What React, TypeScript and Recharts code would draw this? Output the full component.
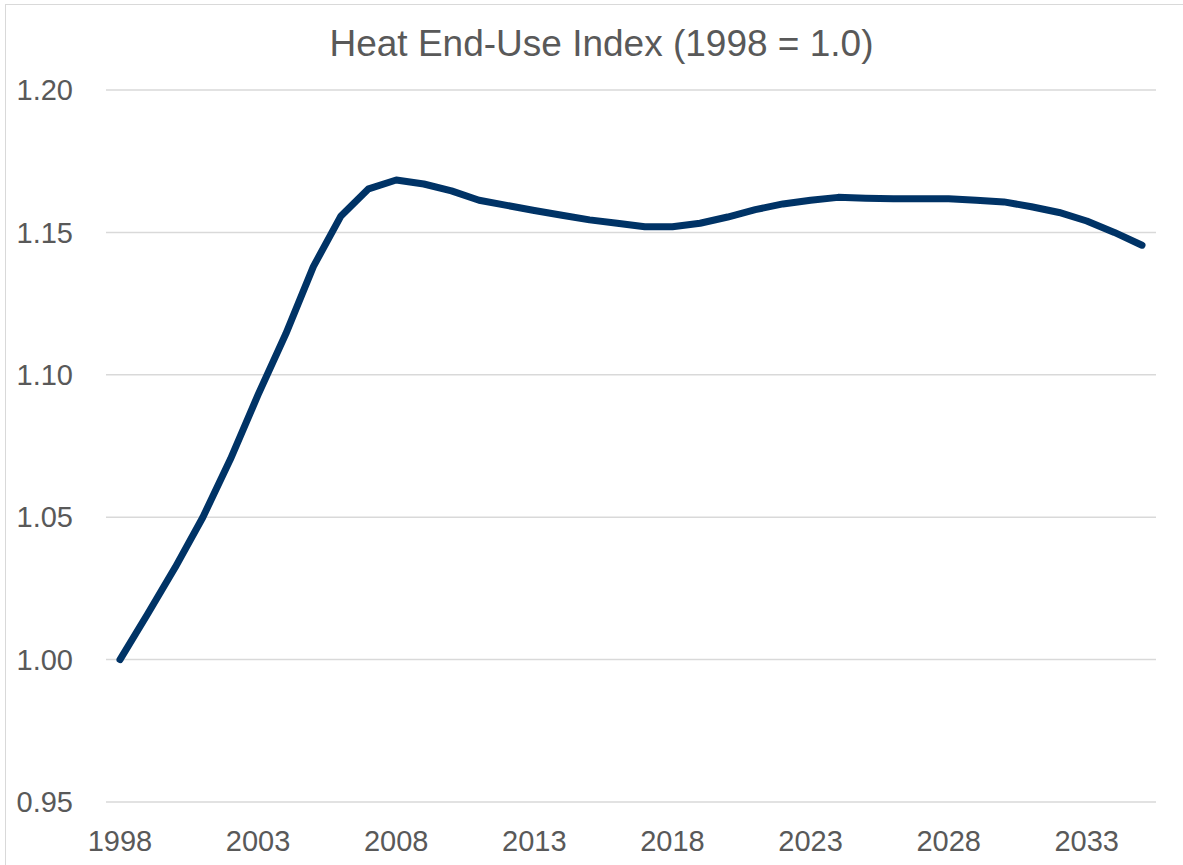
import { LineChart, Line, XAxis, YAxis, CartesianGrid } from 'recharts';

const YEARS = [
  1998, 1999, 2000, 2001, 2002, 2003, 2004, 2005, 2006, 2007,
  2008, 2009, 2010, 2011, 2012, 2013, 2014, 2015, 2016, 2017,
  2018, 2019, 2020, 2021, 2022, 2023, 2024, 2025, 2026, 2027,
  2028, 2029, 2030, 2031, 2032, 2033, 2034, 2035,
];

const INDEX_VALUES = [
  1.0, 1.016, 1.0324, 1.05, 1.0704, 1.093, 1.1143, 1.138, 1.1558, 1.1653,
  1.1684, 1.167, 1.1646, 1.1613, 1.1595, 1.1577, 1.156, 1.1544, 1.1532, 1.152,
  1.152, 1.1532, 1.1554, 1.158, 1.160, 1.1613, 1.1623, 1.162, 1.1618, 1.1618,
  1.1618, 1.1613, 1.1607, 1.159, 1.157, 1.154, 1.150, 1.1455,
];

const Y_TICKS = [0.95, 1.0, 1.05, 1.1, 1.15, 1.2];

const TITLE = 'Heat End-Use Index (1998 = 1.0)';

const data = YEARS.map((year, i) => ({ year: String(year), value: INDEX_VALUES[i] }));

const FONT = '"Liberation Sans", Arial, sans-serif';
const TEXT = '#595959';

export default function App() {
  return (
    <div
      style={{
        position: 'fixed',
        left: 0,
        top: 0,
        width: 1183,
        height: 865,
        background: '#fff',
        fontFamily: FONT,
        overflow: 'hidden',
      }}
    >
      <div
        style={{
          position: 'absolute',
          left: 5,
          top: 4,
          width: 1200,
          height: 900,
          border: '1px solid #d9d9d9',
        }}
      />
      <div
        style={{
          position: 'absolute',
          left: 0,
          width: 1183,
          top: 23,
          textAlign: 'center',
          fontSize: 37,
          color: TEXT,
        }}
      >
        <span style={{ position: 'relative', left: 10 }}>{TITLE}</span>
      </div>
      <div style={{ position: 'absolute', left: 0, top: 0 }}>
        <LineChart
          width={1183}
          height={865}
          data={data}
          margin={{ top: 90, right: 27, bottom: 0, left: 0 }}
        >
          <CartesianGrid vertical={false} stroke="#d9d9d9" strokeWidth={1.5} />
          <XAxis
            dataKey="year"
            interval={4}
            height={63}
            padding={{ left: 14, right: 14 }}
            axisLine={false}
            tickLine={false}
            tickMargin={22}
            tick={{ fill: TEXT, fontSize: 29, fontFamily: FONT }}
          />
          <YAxis
            domain={[0.95, 1.2]}
            ticks={Y_TICKS}
            width={106}
            axisLine={false}
            tickLine={false}
            tickMargin={27}
            tickFormatter={(v: number) => v.toFixed(2)}
            tick={{ fill: TEXT, fontSize: 29, fontFamily: FONT }}
          />
          <Line
            type="linear"
            dataKey="value"
            stroke="#003366"
            strokeWidth={7}
            strokeLinecap="round"
            strokeLinejoin="round"
            dot={false}
            isAnimationActive={false}
          />
        </LineChart>
      </div>
    </div>
  );
}
